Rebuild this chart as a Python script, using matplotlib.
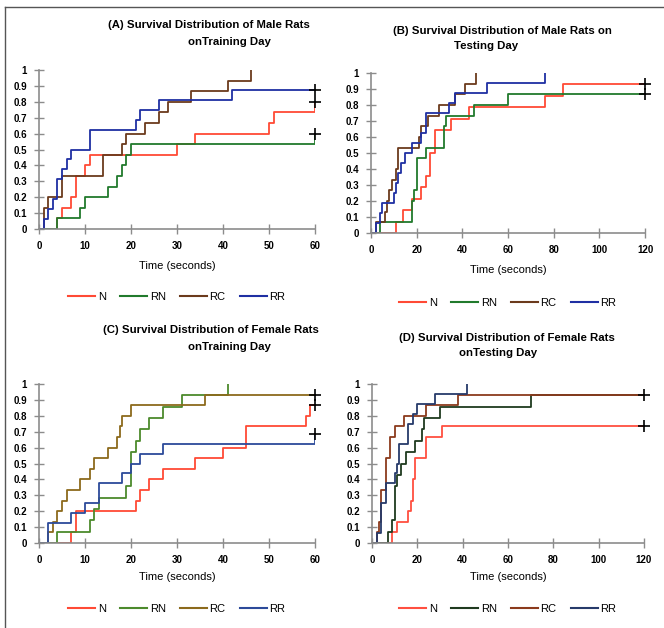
"""
Four-panel survival distribution chart (male / female rats, training / testing day).
"""
import matplotlib
matplotlib.use("Agg")
import matplotlib.pyplot as plt
from matplotlib.lines import Line2D
from matplotlib.ticker import FixedLocator, FixedFormatter

plt.rcParams["font.family"] = ["Liberation Sans", "DejaVu Sans"]

GROUPS = ["N", "RN", "RC", "RR"]
Y_TICKS = [0, 0.1, 0.2, 0.3, 0.4, 0.5, 0.6, 0.7, 0.8, 0.9, 1]
Y_TICK_LABELS = ["0", "0.1", "0.2", "0.3", "0.4", "0.5", "0.6", "0.7", "0.8", "0.9", "1"]
X_TICKS_60 = [0, 10, 20, 30, 40, 50, 60]
X_TICKS_120 = [0, 20, 40, 60, 80, 100, 120]

# (A) male, training day
A_N_t  = [0, 4, 5, 7, 8, 10, 11, 30, 34, 50, 51, 60]
A_N_p  = [0, .067, .133, .2, .333, .4, .467, .533, .6, .667, .733, .8]
A_RN_t = [0, 4, 9, 10, 15, 17, 18, 19, 20, 60]
A_RN_p = [0, .067, .133, .2, .267, .333, .4, .467, .533, .6]
A_RC_t = [0, 1, 2, 5, 14, 18, 19, 23, 26, 28, 33, 41, 46]
A_RC_p = [0, .133, .2, .333, .467, .533, .6, .667, .733, .8, .867, .933, 1]
A_RR_t = [0, 1, 2, 3, 4, 5, 6, 7, 11, 21, 22, 26, 42, 60]
A_RR_p = [0, .0625, .125, .1875, .3125, .375, .4375, .5, .625, .6875, .75, .8125, .875, .875]
A_CENSORED = ["N", "RN", "RR"]

# (B) male, testing day
B_N_t  = [0, 11, 14, 18, 22, 24, 26, 28, 35, 43, 76, 84, 120]
B_N_p  = [0, .071, .143, .214, .286, .357, .5, .643, .714, .786, .857, .929, .929]
B_RN_t = [0, 4, 18, 19, 20, 24, 32, 33, 45, 60, 120]
B_RN_p = [0, .067, .2, .267, .467, .533, .667, .733, .8, .867, .867]
B_RC_t = [0, 2, 6, 7, 8, 9, 11, 12, 21, 22, 25, 30, 37, 41, 46]
B_RC_p = [0, .067, .133, .2, .267, .333, .4, .533, .6, .667, .733, .8, .867, .933, 1]
B_RR_t = [0, 2, 4, 5, 10, 11, 12, 13, 15, 18, 22, 24, 34, 37, 51, 76]
B_RR_p = [0, .0625, .125, .1875, .25, .3125, .375, .4375, .5, .5625, .625, .75, .8125, .875, .9375, 1]
B_CENSORED = ["N", "RN"]

# (C) female, training day
C_N_t  = [0, 7, 8, 21, 22, 24, 27, 34, 40, 45, 58, 59, 60]
C_N_p  = [0, .067, .2, .267, .333, .4, .467, .533, .6, .733, .8, .867, .867]
C_RN_t = [0, 4, 11, 12, 13, 19, 20, 21, 22, 24, 27, 31, 41]
C_RN_p = [0, .071, .143, .214, .286, .357, .571, .643, .714, .786, .857, .929, 1]
C_RC_t = [0, 2, 3, 4, 5, 6, 9, 11, 12, 15, 17, 17.5, 18, 20, 36, 60]
C_RC_p = [0, .067, .133, .2, .267, .333, .4, .467, .533, .6, .667, .733, .8, .867, .933, .933]
C_RR_t = [0, 2, 7, 10, 13, 18, 20, 22, 27, 60]
C_RR_p = [0, .125, .1875, .25, .375, .4375, .5, .5625, .625, .6875]
C_CENSORED = ["N", "RC", "RR"]

# (D) female, testing day
D_N_t  = [0, 9, 11, 16, 17, 18, 19, 24, 31, 120]
D_N_p  = [0, .067, .133, .2, .267, .4, .533, .667, .733, .733]
D_RN_t = [0, 7, 9, 10, 11, 13, 15, 19, 22, 23, 30, 70, 120]
D_RN_p = [0, .071, .143, .357, .429, .5, .571, .643, .714, .786, .857, .929, .929]
D_RC_t = [0, 2, 3, 4, 6, 8, 10, 14, 24, 38, 120]
D_RC_p = [0, .067, .133, .333, .533, .667, .733, .8, .867, .933, .933]
D_RR_t = [0, 2, 4, 6, 10, 11, 12, 16, 18, 20, 28, 42]
D_RR_p = [0, .0625, .25, .375, .4375, .5, .625, .75, .8125, .875, .9375, 1]
D_CENSORED = ["N", "RC"]

COLORS_MALE   = {"N": "#ff4a35", "RN": "#217a2c", "RC": "#6b3a1c", "RR": "#1f2fa3"}
COLORS_FEMALE = {"N": "#ff4a35", "RN": "#4c8a2c", "RC": "#8c6a1c", "RR": "#2c4a9a"}
COLORS_FTEST  = {"N": "#ff4f40", "RN": "#1f3a1f", "RC": "#8b3a1c", "RR": "#263a6a"}

AXIS_GRAY = "#8c8c8c"


def draw_panel(ax, series, colors, censored, xticks):
    for g in GROUPS:
        t, p = series[g]
        ax.step(t, p, where="post", color=colors[g], lw=1.3)
    for g in censored:
        t, p = series[g]
        ax.plot(t[-1], p[-1], marker="+", color="black", ms=9, mew=1.2,
                clip_on=False, zorder=5)
    ax.set_xlim(0, xticks[-1])
    ax.set_ylim(0, 1)
    ax.xaxis.set_major_locator(FixedLocator(xticks))
    ax.yaxis.set_major_locator(FixedLocator(Y_TICKS))
    ax.yaxis.set_major_formatter(FixedFormatter(Y_TICK_LABELS))
    ax.tick_params(direction="inout", length=7, width=1, color=AXIS_GRAY,
                   labelsize=7, pad=5)
    for lab in ax.get_xticklabels() + ax.get_yticklabels():
        lab.set_fontweight("bold")
    for s in ["top", "right"]:
        ax.spines[s].set_visible(False)
    for s in ["left", "bottom"]:
        ax.spines[s].set_color(AXIS_GRAY)
        ax.spines[s].set_linewidth(1.2)


W, H = 664, 628
fig = plt.figure(figsize=(W / 100, H / 100), dpi=100)


def px_axes(x0, x1, ytop, ybot):
    return fig.add_axes([x0 / W, 1 - ybot / H, (x1 - x0) / W, (ybot - ytop) / H])


panels = [
    (px_axes(39, 315, 70, 229),
     {"N": (A_N_t, A_N_p), "RN": (A_RN_t, A_RN_p), "RC": (A_RC_t, A_RC_p), "RR": (A_RR_t, A_RR_p)},
     COLORS_MALE, A_CENSORED, X_TICKS_60,
     [("(A) Survival Distribution of Male Rats", 209, 25), ("onTraining Day", 229, 42)],
     266, 297),
    (px_axes(371, 645, 73, 233),
     {"N": (B_N_t, B_N_p), "RN": (B_RN_t, B_RN_p), "RC": (B_RC_t, B_RC_p), "RR": (B_RR_t, B_RR_p)},
     COLORS_MALE, B_CENSORED, X_TICKS_120,
     [("(B) Survival Distribution of Male Rats on", 502, 31), ("Testing Day", 486, 46)],
     270, 303),
    (px_axes(39, 315, 384, 543),
     {"N": (C_N_t, C_N_p), "RN": (C_RN_t, C_RN_p), "RC": (C_RC_t, C_RC_p), "RR": (C_RR_t, C_RR_p)},
     COLORS_FEMALE, C_CENSORED, X_TICKS_60,
     [("(C) Survival Distribution of Female Rats", 211, 330), ("onTraining Day", 229, 347)],
     577, 609),
    (px_axes(372, 644, 384, 543),
     {"N": (D_N_t, D_N_p), "RN": (D_RN_t, D_RN_p), "RC": (D_RC_t, D_RC_p), "RR": (D_RR_t, D_RR_p)},
     COLORS_FTEST, D_CENSORED, X_TICKS_120,
     [("(D) Survival Distribution of Female Rats", 507, 338), ("onTesting Day", 498, 353)],
     577, 609),
]

for ax, series, colors, censored, xticks, titles, xlab_y, leg_y in panels:
    draw_panel(ax, series, colors, censored, xticks)
    for text, x, y in titles:
        fig.text(x / W, 1 - y / H, text, ha="center", va="center",
                 fontsize=8.2, fontweight="bold")
    pos = ax.get_position()
    cx = (pos.x0 + pos.x1) / 2
    fig.text(cx, 1 - xlab_y / H, "Time (seconds)", ha="center", va="center", fontsize=8)
    handles = [Line2D([], [], color=colors[g], lw=1.5) for g in GROUPS]
    fig.legend(handles, GROUPS, loc="center", bbox_to_anchor=(cx, 1 - leg_y / H),
               ncol=4, frameon=False, fontsize=8, handlelength=2.4,
               handletextpad=0.25, columnspacing=1.3)

# thin frame on the left and top edges
fig.add_artist(Line2D([5 / W, 5 / W], [0, 1 - 7 / H], color="#555555", lw=1))
fig.add_artist(Line2D([5 / W, 1], [1 - 7 / H, 1 - 7 / H], color="#555555", lw=1))

fig.savefig("out.png", dpi=100)
